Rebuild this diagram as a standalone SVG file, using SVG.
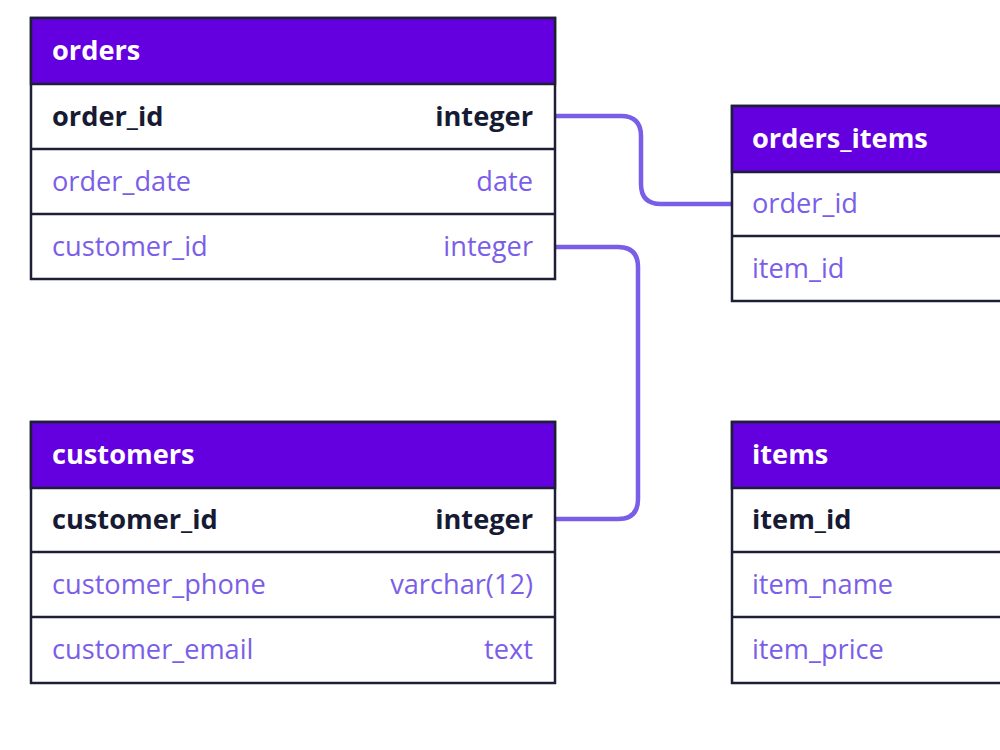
<svg xmlns="http://www.w3.org/2000/svg" width="1000" height="750" viewBox="0 0 1000 750">
<style>
.hdr{fill:#6400e0;stroke:#1c1f36;stroke-width:2.5}
.box{fill:#ffffff;stroke:#1c1f36;stroke-width:2.5}
.sep{stroke:#1c1f36;stroke-width:2.5}
text{font-family:"Open Sans","Noto Sans","DejaVu Sans",sans-serif;font-size:27.2px}
.ht{fill:#ffffff;font-weight:700}
.pk{fill:#161b33;font-weight:700}
.fd{fill:#7b5ee8;font-weight:400}
.r{text-anchor:end}
.conn{fill:none;stroke:#7b5ee8;stroke-width:4.5}
</style>
<rect width="1000" height="750" fill="#ffffff"/>
<g id="connectors">
<path class="conn" d="M555,116 H621 Q641,116 641,136 V184 Q641,204 661,204 H732"/>
<path class="conn" d="M555,247 H618 Q638,247 638,267 V499 Q638,519 618,519 H555"/>
</g>
<g id="orders">
<rect class="box" x="31" y="18" width="524" height="261"/>
<rect class="hdr" x="31" y="18" width="524" height="66"/>
<line class="sep" x1="31" y1="149" x2="555" y2="149"/>
<line class="sep" x1="31" y1="214" x2="555" y2="214"/>
<text class="ht" x="52" y="60">orders</text>
<text class="pk" x="52" y="126">order_id</text>
<text class="pk r" x="533" y="126">integer</text>
<text class="fd" x="52" y="191">order_date</text>
<text class="fd r" x="533" y="191">date</text>
<text class="fd" x="52" y="256">customer_id</text>
<text class="fd r" x="533" y="256">integer</text>
</g>
<g id="orders_items">
<rect class="box" x="732" y="106" width="524" height="195"/>
<rect class="hdr" x="732" y="106" width="524" height="66"/>
<line class="sep" x1="732" y1="236" x2="1256" y2="236"/>
<text class="ht" x="752" y="148">orders_items</text>
<text class="fd" x="752" y="213">order_id</text>
<text class="fd" x="752" y="278">item_id</text>
</g>
<g id="customers">
<rect class="box" x="31" y="422" width="524" height="261"/>
<rect class="hdr" x="31" y="422" width="524" height="66"/>
<line class="sep" x1="31" y1="552" x2="555" y2="552"/>
<line class="sep" x1="31" y1="617" x2="555" y2="617"/>
<text class="ht" x="52" y="464">customers</text>
<text class="pk" x="52" y="529">customer_id</text>
<text class="pk r" x="533" y="529">integer</text>
<text class="fd" x="52" y="594">customer_phone</text>
<text class="fd r" x="533" y="594">varchar(12)</text>
<text class="fd" x="52" y="659">customer_email</text>
<text class="fd r" x="533" y="659">text</text>
</g>
<g id="items">
<rect class="box" x="732" y="422" width="524" height="261"/>
<rect class="hdr" x="732" y="422" width="524" height="66"/>
<line class="sep" x1="732" y1="552" x2="1256" y2="552"/>
<line class="sep" x1="732" y1="617" x2="1256" y2="617"/>
<text class="ht" x="752" y="464">items</text>
<text class="pk" x="752" y="529">item_id</text>
<text class="fd" x="752" y="594">item_name</text>
<text class="fd" x="752" y="659">item_price</text>
</g>
</svg>
